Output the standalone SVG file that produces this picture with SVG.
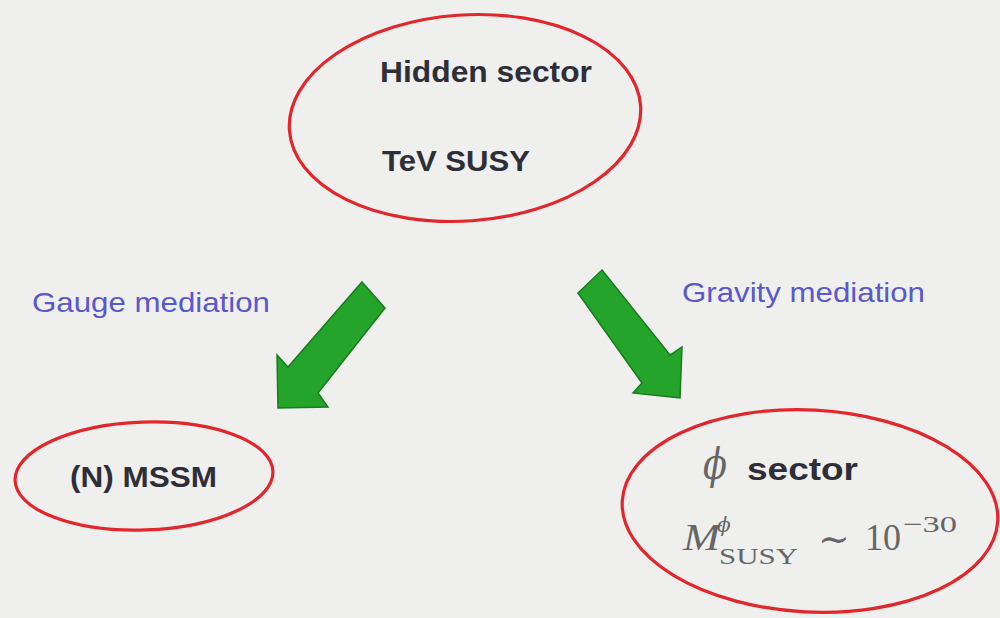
<svg xmlns="http://www.w3.org/2000/svg" width="1000" height="618" viewBox="0 0 1000 618">
<defs>
<style>
.ell{fill:none;stroke:#e3262c;stroke-width:3.2}
.bold{font-family:"Liberation Sans",Arial,sans-serif;font-weight:bold;fill:#2e2e38}
.lbl{font-family:"Liberation Sans",Arial,sans-serif;fill:#5a58cc}
.math{font-family:"Liberation Serif","DejaVu Serif",serif;fill:#666}
.mi{font-family:"DejaVu Serif","Liberation Serif",serif;font-style:italic;fill:#666}
.arrow{fill:#25a42c;stroke:#1b7a20;stroke-width:1.5;stroke-linejoin:miter}
</style>
</defs>
<rect x="0" y="0" width="1000" height="618" fill="#efefed"/>
<g id="hidden-sector">
<ellipse class="ell" cx="465" cy="118" rx="176" ry="103" transform="rotate(-4 465 118)"/>
<text class="bold" x="380" y="82" font-size="30" textLength="212" lengthAdjust="spacingAndGlyphs">Hidden sector</text>
<text class="bold" x="382" y="171" font-size="30" textLength="148" lengthAdjust="spacingAndGlyphs">TeV SUSY</text>
</g>
<g id="mssm">
<ellipse class="ell" cx="144" cy="476" rx="129" ry="54" transform="rotate(-2 144 476)"/>
<text class="bold" x="70" y="487" font-size="29" textLength="147" lengthAdjust="spacingAndGlyphs">(N) MSSM</text>
</g>
<g id="phi-sector">
<ellipse class="ell" cx="810" cy="511" rx="188" ry="101" transform="rotate(3 810 511)"/>
<text class="mi" x="703" y="479" font-size="42" textLength="24" lengthAdjust="spacingAndGlyphs">ϕ</text>
<text class="bold" x="747" y="480" font-size="31" textLength="111" lengthAdjust="spacingAndGlyphs">sector</text>
<text class="math" x="683" y="550" font-size="38" font-style="italic" textLength="37" lengthAdjust="spacingAndGlyphs">M</text>
<text class="mi" x="717" y="532" font-size="20">ϕ</text>
<text class="math" x="719" y="564" font-size="23" textLength="79" lengthAdjust="spacingAndGlyphs">SUSY</text>
<text class="math" x="818" y="552" font-size="38">∼</text>
<text class="math" x="865" y="550" font-size="37" textLength="36" lengthAdjust="spacingAndGlyphs">10</text>
<text class="math" x="903" y="532" font-size="23" textLength="54" lengthAdjust="spacingAndGlyphs">−30</text>
</g>
<g id="connectors">
<polygon class="arrow" points="362,282 385,308 318,393 328,407 278,408 277,355 288,367"/>
<polygon class="arrow" points="602,270 670,355 682,347 680,398 633,393 642,383 578,293"/>
<text class="lbl" x="32" y="312" font-size="28" textLength="238" lengthAdjust="spacingAndGlyphs">Gauge mediation</text>
<text class="lbl" x="682" y="302" font-size="28" textLength="243" lengthAdjust="spacingAndGlyphs">Gravity mediation</text>
</g>
</svg>
